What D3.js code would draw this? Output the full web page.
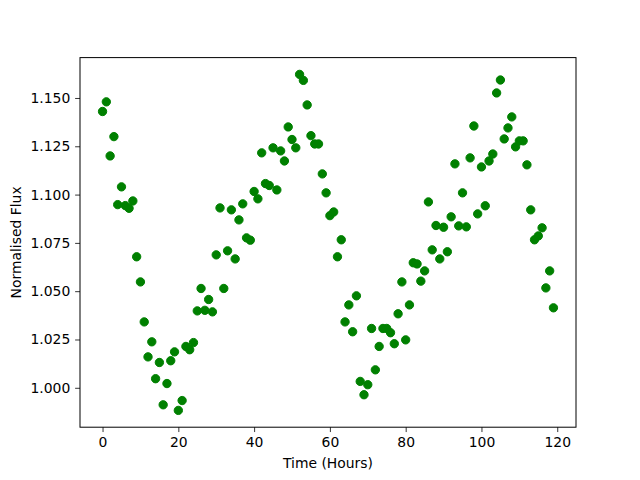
<!DOCTYPE html>
<html>
<head>
<meta charset="utf-8">
<script src="https://cdn.jsdelivr.net/npm/d3@7"></script>
<style>
  body { margin: 0; background: #fff; }
  svg text { font-family: "DejaVu Sans", sans-serif; }
</style>
</head>
<body>
<svg id="chart" width="640" height="480"></svg>
<script>
// Hourly flux readings.
const hours = d3.range(0, 120);
const flux = [
  1.143, 1.148, 1.120, 1.130, 1.0948, 1.104, 1.0943, 1.0929, 1.0967, 1.0678,
  1.0548, 1.0341, 1.016, 1.0238, 1.0047, 1.0131, 0.9912, 1.0022, 1.014, 1.0186,
  0.9883, 0.9934, 1.0214, 1.0197, 1.0234, 1.0398, 1.0514, 1.0401, 1.0457, 1.0393,
  1.0688, 1.0931, 1.0514, 1.0709, 1.0921, 1.0667, 1.0869, 1.0952, 1.0776, 1.0764,
  1.1016, 1.0978, 1.1216, 1.1057, 1.1047, 1.1242, 1.1024, 1.1226, 1.1174, 1.135,
  1.1285, 1.1242, 1.1622, 1.1591, 1.1464, 1.1305, 1.1262, 1.1262, 1.1107, 1.1009,
  1.0891, 1.091, 1.0678, 1.0766, 1.0341, 1.0429, 1.029, 1.0476, 1.0033, 0.9964,
  1.0016, 1.0307, 1.0093, 1.0214, 1.0307, 1.0307, 1.0285, 1.0228, 1.0383, 1.0548,
  1.0248, 1.0429, 1.0647, 1.0641, 1.0552, 1.0605, 1.0962, 1.0714, 1.084, 1.0667,
  1.0831, 1.0704, 1.0885, 1.1159, 1.0838, 1.1009, 1.0833, 1.119, 1.1355, 1.09,
  1.1143, 1.0942, 1.1174, 1.121, 1.1526, 1.1593, 1.1288, 1.1345, 1.1402, 1.1247,
  1.1278, 1.1278, 1.1154, 1.0921, 1.0766, 1.0786, 1.0828, 1.0517, 1.0605, 1.0414
];
const xTicks = [0, 20, 40, 60, 80, 100, 120];
const yTicks = [1.000, 1.025, 1.050, 1.075, 1.100, 1.125, 1.150];

const points = hours.map((h, i) => ({ h, f: flux[i] }));

const margin = { left: 80, right: 64, top: 57.6, bottom: 52.8 };
const width = 640, height = 480;
const svg = d3.select("#chart");

// matplotlib-style 5% padding on both axes
const padDomain = ([lo, hi]) => {
  const p = (hi - lo) * 0.05;
  return [lo - p, hi + p];
};

const x = d3.scaleLinear()
  .domain(padDomain(d3.extent(hours)))
  .range([margin.left, width - margin.right]);
const y = d3.scaleLinear()
  .domain(padDomain(d3.extent(flux)))
  .range([height - margin.bottom, margin.top]);

const plot = svg.append("g");

plot.selectAll("circle")
  .data(points)
  .join("circle")
  .attr("cx", (d) => x(d.h))
  .attr("cy", (d) => y(d.f))
  .attr("r", 4.17)
  .attr("fill", "#008000")
  .attr("stroke", "#008000")
  .attr("stroke-width", 1.0);

// frame
svg.append("rect")
  .attr("x", margin.left)
  .attr("y", margin.top)
  .attr("width", width - margin.left - margin.right)
  .attr("height", height - margin.top - margin.bottom)
  .attr("fill", "none")
  .attr("stroke", "#000")
  .attr("stroke-width", 1);

const xAxis = svg.append("g")
  .attr("transform", `translate(0,${height - margin.bottom})`)
  .call(d3.axisBottom(x).tickValues(xTicks).tickSize(4.86).tickPadding(4.86)
    .tickFormat(d3.format("d")));
const yAxis = svg.append("g")
  .attr("transform", `translate(${margin.left},0)`)
  .call(d3.axisLeft(y).tickValues(yTicks).tickSize(4.86).tickPadding(4.86)
    .tickFormat(d3.format(".3f")));

[xAxis, yAxis].forEach((g) => {
  g.select(".domain").remove();
  g.selectAll(".tick line").attr("stroke", "#000").attr("stroke-width", 0.8);
  g.selectAll(".tick text")
    .attr("fill", "#000")
    .attr("font-size", 13.9)
    .style("font-family", "DejaVu Sans, sans-serif");
});

svg.append("text")
  .attr("x", (margin.left + width - margin.right) / 2)
  .attr("y", 468)
  .attr("text-anchor", "middle")
  .attr("font-size", 13.9)
  .text("Time (Hours)");

svg.append("text")
  .attr("transform", `translate(21,${(margin.top + height - margin.bottom) / 2}) rotate(-90)`)
  .attr("text-anchor", "middle")
  .attr("font-size", 13.9)
  .text("Normalised Flux");
</script>
</body>
</html>
